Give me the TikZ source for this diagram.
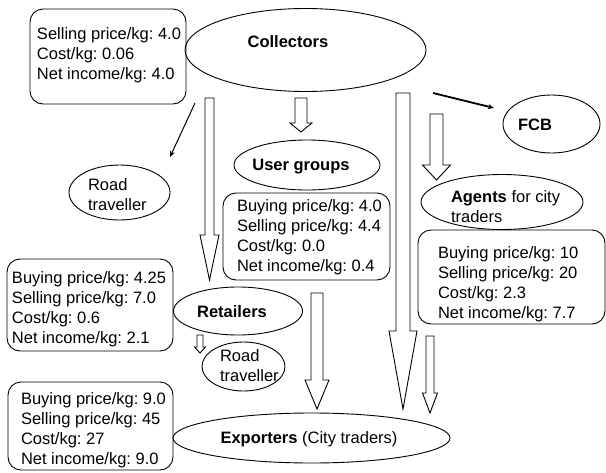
\documentclass[tikz,border=0pt]{standalone}
\usepackage{fontspec}
\setmainfont{Liberation Sans}
\usetikzlibrary{shapes.geometric,arrows.meta}
\frenchspacing
\newcommand{\hollowarr}[6]{%
  \draw[hollow] ({#1-#3},#2) -- ({#1+#3},#2) -- ({#1+#3},#4) -- ({#1+#5},#4) -- (#1,#6) -- ({#1-#5},#4) -- ({#1-#3},#4) -- cycle;}
\begin{document}
\begin{tikzpicture}[x=1pt,y=-1pt,
  every node/.style={inner sep=0pt, outer sep=0pt},
  infobox/.style={draw, rectangle, rounded corners=13pt, line width=0.9pt},
  oval/.style={draw, ellipse, line width=0.9pt},
  txt/.style={font=\fontsize{16.5}{20}\selectfont\frenchspacing, align=left},
  hollow/.style={draw, fill=white, line width=0.9pt, line join=miter},
  thinarrow/.style={line width=1pt, -{Stealth[length=6pt,width=5pt]}},
  thickarrow/.style={line width=1.8pt, -{Stealth[length=6pt,width=5pt]}}
]
\useasboundingbox (0,0) rectangle (606,472);

% info boxes
\node[infobox, minimum width=156pt, minimum height=95pt] (cbox) at (108,56.5) {};
\node[txt, anchor=west] (ctxt) at (37,55) {Selling price/kg: 4.0\\Cost/kg: 0.06\\Net income/kg: 4.0};

\node[infobox, minimum width=167pt, minimum height=87pt] (ubox) at (306.5,236.5) {};
\node[txt, anchor=west] (utxt) at (237,237.5) {Buying price/kg: 4.0\\Selling price/kg: 4.4\\Cost/kg: 0.0\\Net income/kg: 0.4};

\node[infobox, minimum width=187pt, minimum height=94pt] (abox) at (511.5,277) {};
\node[txt, anchor=west] (atxt) at (438,284) {Buying price/kg: 10\\Selling price/kg: 20\\Cost/kg: 2.3\\Net income/kg: 7.7};

\node[infobox, minimum width=166pt, minimum height=92pt] (rbox) at (90,305) {};
\node[txt, anchor=west] (rtxt) at (12,309) {Buying price/kg: 4.25\\Selling price/kg: 7.0\\Cost/kg: 0.6\\Net income/kg: 2.1};

\node[infobox, minimum width=165pt, minimum height=88pt] (ebox) at (90.5,426) {};
\node[txt, anchor=west] (etxt) at (21,430) {Buying price/kg: 9.0\\Selling price/kg: 45\\Cost/kg: 27\\Net income/kg: 9.0};

% ellipses
\node[oval, minimum width=241pt, minimum height=83pt] (coll) at (305.5,50) {};
\node[txt] (colltxt) at (288,42) {\textbf{Collectors}};

\node[oval, minimum width=146pt, minimum height=50pt] (ug) at (307,165) {};
\node[txt] (ugtxt) at (301,167) {\textbf{User groups}};

\node[oval, minimum width=97pt, minimum height=58pt] (fcb) at (551.5,124) {};
\node[txt] (fcbtxt) at (535,125) {\textbf{FCB}};

\node[oval, minimum width=162pt, minimum height=55pt] (ag) at (502,202) {};
\node[txt, anchor=west] (agtxt) at (451,207) {\textbf{Agents} for city\\traders};

\node[oval, minimum width=101pt, minimum height=55pt] (rt1) at (119.5,192.5) {};
\node[txt, anchor=west] (rt1txt) at (88,194.5) {Road\\traveller};

\node[oval, minimum width=129pt, minimum height=48pt] (ret) at (238,311) {};
\node[txt] (rettxt) at (232,312) {\textbf{Retailers}};

\node[oval, minimum width=83pt, minimum height=49pt] (rt2) at (243.5,366.5) {};
\node[txt, anchor=west] (rt2txt) at (220,365.5) {Road\\traveller};

\node[oval, minimum width=277pt, minimum height=50pt] (exp) at (311.5,438) {};
\node[txt] (exptxt) at (309,439) {\textbf{Exporters} (City traders)};

% hollow block arrows
\hollowarr{209.5}{98}{4.5}{235}{9.5}{280}
\hollowarr{301}{98}{6}{123}{11}{132}
\hollowarr{403}{93}{7}{331}{14}{409}
\hollowarr{317}{293}{6}{380}{12}{409}
\hollowarr{430}{336}{4}{393}{7.5}{413}
\hollowarr{436.5}{114}{6.5}{165}{14}{180}
\hollowarr{200}{335}{3}{347}{5.5}{353}

% line arrows
\coordinate (l1s) at (195,103);
\coordinate (l1e) at (170,157);
\draw[thinarrow] (l1s) -- (l1e);
\coordinate (l2s) at (433,93);
\coordinate (l2e) at (494,108);
\draw[thickarrow] (l2s) -- (l2e);
\end{tikzpicture}
\end{document}
